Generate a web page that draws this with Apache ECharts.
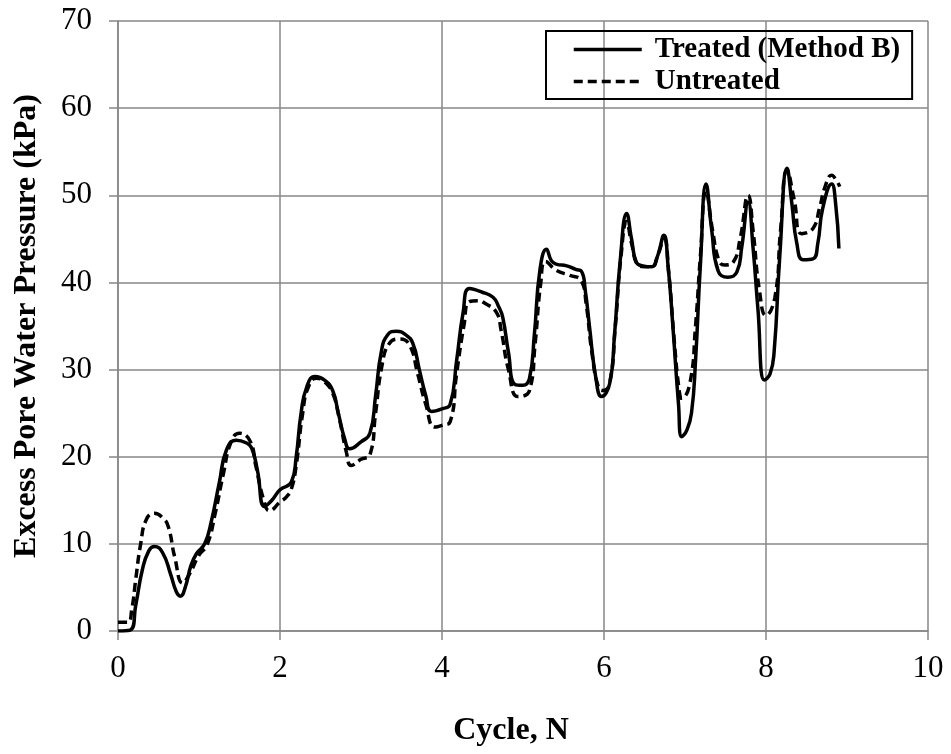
<!DOCTYPE html>
<html>
<head>
<meta charset="utf-8">
<script src="https://cdn.jsdelivr.net/npm/echarts@6/dist/echarts.min.js"></script>
<style>
  html, body { margin: 0; padding: 0; background: #fff; }
  #chart { width: 951px; height: 754px; }
</style>
</head>
<body>
<div id="chart"></div>
<script>
// Excess pore water pressure vs. loading cycle
const treatedName = 'Treated (Method B)';
const untreatedName = 'Untreated';

const treatedCycle = [0, 0.15, 0.22, 0.3, 0.38, 0.45, 0.55, 0.65, 0.72, 0.77, 0.83, 0.9, 0.97, 1.07, 1.15, 1.25, 1.34, 1.46, 1.58, 1.65, 1.72, 1.81, 1.9, 2.0, 2.14, 2.2, 2.26, 2.33, 2.43, 2.55, 2.65, 2.72, 2.8, 2.86, 3.0, 3.11, 3.18, 3.25, 3.33, 3.44, 3.55, 3.64, 3.72, 3.8, 3.87, 4.0, 4.1, 4.18, 4.26, 4.34, 4.49, 4.63, 4.7, 4.75, 4.82, 4.9, 5.0, 5.08, 5.14, 5.21, 5.29, 5.35, 5.41, 5.54, 5.65, 5.72, 5.77, 5.82, 5.9, 5.97, 6.07, 6.13, 6.2, 6.28, 6.34, 6.4, 6.48, 6.59, 6.66, 6.74, 6.79, 6.85, 6.92, 6.96, 7.02, 7.08, 7.13, 7.19, 7.26, 7.33, 7.41, 7.53, 7.64, 7.7, 7.78, 7.84, 7.9, 7.98, 8.05, 8.1, 8.17, 8.26, 8.32, 8.38, 8.46, 8.58, 8.64, 8.7, 8.81, 8.86, 8.9];
const treatedPressure = [0, 0.1, 3, 7, 9.2, 9.7, 9, 6.5, 4.5, 4, 5, 7.5, 8.9, 10, 12.5, 17, 20.8, 21.9, 21.6, 21, 18.5, 14.3, 15, 16.2, 17.1, 20, 25, 28, 29.2, 28.8, 27.6, 25, 22, 20.9, 21.7, 22.7, 27, 32, 34, 34.4, 34, 33, 30, 27, 25.2, 25.5, 26, 31, 36.5, 39.3, 38.9, 38.3, 37.2, 36, 32, 28.3, 28.2, 29, 34, 41.5, 43.8, 42.5, 42.1, 41.9, 41.5, 41.3, 39, 35, 29, 26.9, 28.4, 34, 42.5, 47.9, 45, 42.3, 41.9, 41.8, 43, 45.4, 42, 35, 26, 22.3, 23, 25, 31, 42, 51.3, 46, 41.3, 40.6, 41.2, 44, 49.2, 44, 37, 28.8, 29.5, 32, 43, 53.1, 49, 44.5, 42.6, 42.7, 44.5, 48.5, 51.3, 49, 43.9];

const untreatedCycle = [0, 0.12, 0.17, 0.22, 0.28, 0.35, 0.45, 0.55, 0.62, 0.7, 0.8, 0.88, 1.0, 1.1, 1.2, 1.3, 1.4, 1.5, 1.63, 1.7, 1.8, 1.87, 2.0, 2.08, 2.14, 2.2, 2.28, 2.35, 2.45, 2.55, 2.65, 2.73, 2.82, 2.88, 3.0, 3.11, 3.18, 3.26, 3.35, 3.48, 3.6, 3.7, 3.8, 3.91, 4.0, 4.1, 4.18, 4.27, 4.34, 4.45, 4.53, 4.67, 4.73, 4.82, 4.94, 5.08, 5.15, 5.22, 5.28, 5.41, 5.58, 5.72, 5.78, 5.85, 5.93, 5.99, 6.07, 6.14, 6.21, 6.28, 6.34, 6.42, 6.5, 6.59, 6.66, 6.74, 6.8, 6.87, 6.93, 6.96, 7.06, 7.13, 7.19, 7.26, 7.34, 7.42, 7.49, 7.6, 7.68, 7.78, 7.84, 7.92, 8.0, 8.11, 8.18, 8.26, 8.35, 8.44, 8.58, 8.66, 8.73, 8.81, 8.87, 8.91];
const untreatedPressure = [1, 1, 2.5, 6, 10, 12.8, 13.5, 13, 12, 8.5, 5.5, 6.5, 8.7, 9.9, 13.5, 18, 21.8, 22.7, 21.8, 19, 15, 13.8, 14.8, 15.4, 16.3, 19, 25, 28, 29, 28.6, 27.3, 24.5, 20.5, 19, 19.7, 20.2, 25, 30.5, 33, 33.5, 32.8, 29.5, 26, 23.4, 23.6, 24, 29.5, 35, 37.8, 37.9, 37.6, 36.6, 34.5, 30, 26.9, 27.6, 33, 40, 42.4, 41.4, 40.8, 40.2, 37.5, 32, 28, 27.6, 28.4, 35, 43, 47, 44.5, 42, 41.8, 41.8, 43, 45, 41, 33, 27.5, 26.7, 28.4, 35, 43, 50.5, 46, 42.5, 42, 42.4, 45, 50, 46, 39, 36.2, 38.3, 46, 52.9, 49.4, 45.6, 46.2, 48.5, 51, 52.3, 51.7, 51];

const xTitle = 'Cycle, N';
const yTitle = 'Excess Pore Water Pressure (kPa)';

const pair = (xs, ys) => xs.map((x, i) => [x, ys[i]]);

const serif = "'Liberation Serif', 'Times New Roman', serif";
const gridGray = '#878787';

const chart = echarts.init(document.getElementById('chart'), null, { renderer: 'canvas' });

chart.setOption({
  backgroundColor: '#fff',
  animation: false,
  grid: { left: 118, right: 23, top: 21, bottom: 123, outerBoundsMode: 'none' },
  legend: {
    orient: 'vertical',
    left: 546,
    top: 31,
    padding: [4, 12, 3, 26],
    borderColor: '#000',
    borderWidth: 2,
    itemWidth: 68,
    itemHeight: 14,
    itemGap: 3,
    itemStyle: { opacity: 0 },
    lineStyle: { width: 3.5 },
    textStyle: { fontFamily: serif, fontWeight: 'bold', fontSize: 29, color: '#000', padding: [0, 0, 0, 8] },
    data: [treatedName, untreatedName]
  },
  xAxis: {
    type: 'value',
    min: 0, max: 10, interval: 2,
    name: xTitle,
    nameLocation: 'middle',
    nameGap: 84,
    nameTextStyle: { fontFamily: serif, fontWeight: 'bold', fontSize: 32, color: '#000', padding: [0, 24, 0, 0] },
    axisLine: { show: true, onZero: false, lineStyle: { color: gridGray, width: 1.5 } },
    axisTick: { show: true, length: 9, lineStyle: { color: gridGray, width: 1.5 } },
    axisLabel: { fontFamily: serif, fontSize: 31, color: '#000', margin: 22 },
    splitLine: { show: true, lineStyle: { color: gridGray, width: 1.5 } }
  },
  yAxis: {
    type: 'value',
    min: 0, max: 70, interval: 10,
    name: yTitle,
    nameLocation: 'middle',
    nameGap: 75,
    nameTextStyle: { fontFamily: serif, fontWeight: 'bold', fontSize: 32, color: '#000' },
    axisLine: { show: true, lineStyle: { color: gridGray, width: 1.5 } },
    axisTick: { show: true, length: 9, lineStyle: { color: gridGray, width: 1.5 } },
    axisLabel: { fontFamily: serif, fontSize: 31, color: '#000', margin: 26 },
    splitLine: { show: true, lineStyle: { color: gridGray, width: 1.5 } }
  },
  series: [
    {
      name: treatedName,
      type: 'line',
      data: pair(treatedCycle, treatedPressure),
      symbol: 'none',
      smooth: 0.5,
      lineStyle: { color: '#000', width: 3.5, type: 'solid' },
      itemStyle: { color: '#000' },
      z: 3
    },
    {
      name: untreatedName,
      type: 'line',
      data: pair(untreatedCycle, untreatedPressure),
      symbol: 'none',
      smooth: 0.5,
      lineStyle: { color: '#000', width: 3.5, type: [9, 5] },
      itemStyle: { color: '#000' },
      z: 2
    }
  ]
});
</script>
</body>
</html>
